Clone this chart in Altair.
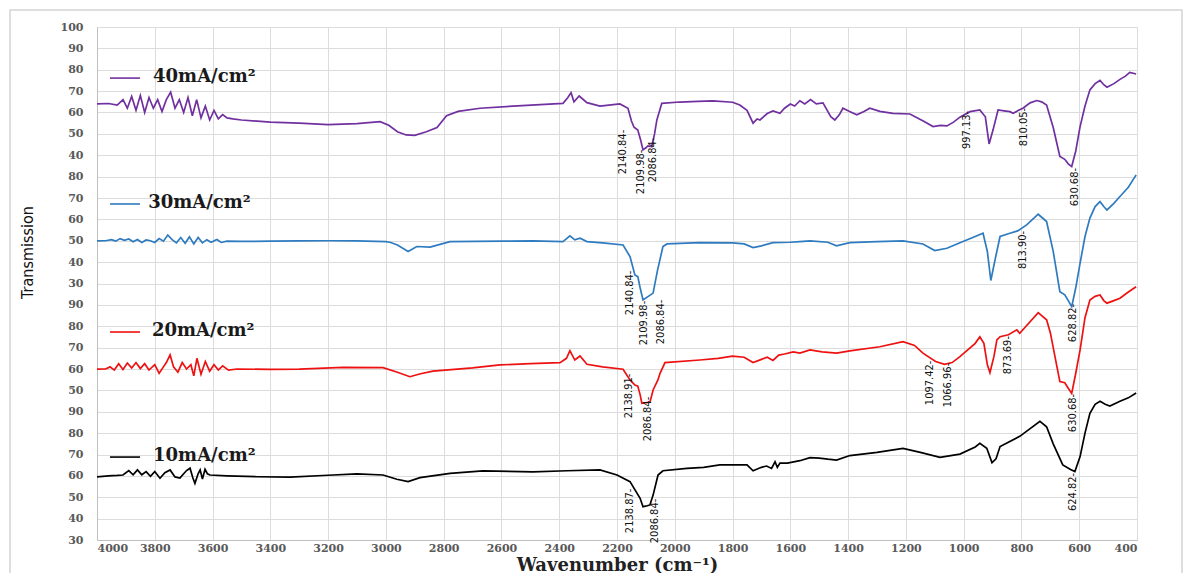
import altair as alt
import pandas as pd

SERIES = ["10mA/cm²", "20mA/cm²", "30mA/cm²", "40mA/cm²"]
COLORS = ["#000000", "#ee1111", "#2e7bbf", "#7030a0"]
# baseline label value and tick index where each stacked spectrum's own scale starts
BASE_VALUE = [30, 50, 30, 40]
BASE_INDEX = [0, 7, 12, 18]
TICK_LABELS = [30, 40, 50, 60, 70, 80, 90,
               50, 60, 70, 80, 90,
               30, 40, 50, 60, 70, 80,
               40, 50, 60, 70, 80, 90, 100]
X_TICKS = list(range(400, 4001, 200))

WN_40 = [4000, 3960, 3930, 3910, 3895, 3880, 3865, 3850, 3835, 3820, 3805, 3790, 3775, 3760, 3745,
         3730, 3715, 3700, 3685, 3670, 3655, 3640, 3625, 3610, 3595, 3580, 3565, 3550, 3530, 3500,
         3400, 3300, 3200, 3100, 3020, 2990, 2960, 2930, 2900, 2860, 2823, 2790, 2750, 2674, 2560,
         2450, 2387, 2370, 2359, 2349, 2331, 2304, 2259, 2190, 2162, 2150, 2141, 2128, 2118, 2110,
         2100, 2093, 2080, 2070, 2062, 2045, 1983, 1920, 1868, 1800, 1775, 1750, 1729, 1715, 1705,
         1680, 1660, 1636, 1620, 1600, 1585, 1567, 1550, 1530, 1510, 1487, 1460, 1446, 1430, 1418,
         1395, 1370, 1345, 1325, 1290, 1245, 1186, 1140, 1106, 1080, 1058, 1035, 1013, 978, 944,
         925, 912, 898, 881, 860, 840, 829, 810, 795, 770, 747, 730, 713, 690, 667,
         650, 638, 626, 612, 597, 580, 563, 545, 528, 515, 504, 480, 459, 440, 425, 403]
T_40 = [64.0, 64.2, 63.5, 66, 62, 67.5, 61, 68, 60, 67, 62, 66, 60.5, 66, 69.5,
        62, 66, 60, 67, 58.5, 66, 57.5, 63, 56.5, 61, 57, 59, 57.5, 57, 56.5,
        55.5, 55, 54.3, 54.8, 55.7, 54, 51, 49.5, 49.3, 51, 53, 58.5, 60.5, 62, 63,
        63.8, 64.3, 67, 69.3, 65, 67.7, 64.6, 63, 64, 62, 56, 53.1, 51.8, 47, 42.5,
        43.5, 44.4, 44, 50, 56.5, 64.3, 64.9, 65.2, 65.4, 64.8, 63.5, 61, 55, 57, 56.5,
        59.5, 60.7, 59.6, 62, 64, 63, 65.5, 64, 66, 64, 64.5, 58, 56.5, 59, 62,
        60.5, 58.9, 60.5, 62, 60.5, 59.6, 59.3, 56, 53.4, 54, 53.7, 55.5, 57.8, 60.4, 61.2,
        58, 45.3, 52, 61.2, 60.8, 60.4, 59.6, 61, 62, 64.5, 65.6, 65, 63.5, 53, 39.4,
        38.1, 36, 34.7, 42, 53.4, 63, 70.6, 73.5, 75, 73, 71.8, 73.5, 75.5, 77, 78.8, 78]

WN_30 = [4000, 3970, 3950, 3935, 3920, 3905, 3890, 3875, 3860, 3845, 3830, 3815, 3800, 3785, 3770,
         3755, 3740, 3725, 3710, 3695, 3680, 3665, 3650, 3635, 3620, 3605, 3585, 3570, 3550, 3500,
         3400, 3300, 3200, 3100, 3000, 2986, 2960, 2923, 2893, 2847, 2800, 2778, 2600, 2491, 2387,
         2363, 2346, 2328, 2304, 2250, 2179, 2155, 2138, 2128, 2120, 2110, 2089, 2075, 2060, 2041,
         2027, 1913, 1800, 1760, 1729, 1700, 1660, 1600, 1567, 1532, 1470, 1440, 1394, 1300, 1210,
         1141, 1100, 1058, 1013, 960, 933, 918, 906, 890, 874, 840, 813, 782, 742, 713,
         690, 667, 650, 638, 626, 612, 597, 580, 563, 545, 528, 515, 504, 480, 459, 430, 403]
T_30 = [49.9, 50, 50.5, 49.8, 51, 50.2, 50.8, 49.5, 50.6, 49.2, 50.4, 50, 49.2, 51, 49.8,
        52.7, 50.5, 49, 51.5, 48.8, 51.8, 48.5, 51.5, 49, 50.5, 49.3, 50.6, 49.2, 49.8, 49.7,
        49.8, 49.9, 50, 49.9, 49.6, 49.3, 48, 45, 47.3, 47, 48.8, 49.6, 49.8, 49.9, 49.6,
        52.3, 50.4, 51.2, 49.6, 49, 48, 42.6, 34, 33.2, 28, 22.3, 24.2, 25.5, 36, 47.3,
        48.5, 49.1, 49, 48.5, 46.8, 47.6, 49.1, 49.3, 49.6, 49.9, 49.3, 47.6, 49.1, 49.6, 49.9,
        48.5, 45.4, 46.5, 49.1, 52, 53.5, 45, 31.4, 42, 52, 53.5, 54.6, 57.4, 62.4, 59,
        45, 26.2, 24.7, 22, 19.2, 28, 39.5, 52, 60.6, 66, 68.3, 66, 64.4, 67.5, 70.7, 75, 80.8]

WN_20 = [4000, 3970, 3955, 3940, 3925, 3910, 3895, 3880, 3865, 3850, 3835, 3820, 3800, 3785, 3770,
         3760, 3747, 3735, 3720, 3705, 3690, 3675, 3665, 3654, 3640, 3625, 3610, 3595, 3580, 3565,
         3545, 3515, 3400, 3300, 3148, 3010, 2960, 2917, 2880, 2837, 2700, 2605, 2500, 2397, 2375,
         2363, 2346, 2328, 2304, 2250, 2179, 2155, 2138, 2128, 2120, 2114, 2100, 2086, 2075, 2058,
         2051, 2034, 1913, 1850, 1800, 1760, 1729, 1700, 1680, 1660, 1640, 1620, 1590, 1567, 1532,
         1490, 1440, 1394, 1290, 1210, 1170, 1141, 1097, 1066, 1040, 1013, 960, 944, 930, 918,
         909, 895, 885, 874, 845, 816, 806, 742, 713, 700, 677, 667, 650, 638, 626,
         612, 597, 580, 563, 545, 528, 515, 504, 480, 459, 430, 403]
T_20 = [59.9, 60, 61, 59.5, 62.5, 59.8, 62.8, 60.5, 63, 60.2, 62.5, 59.5, 62, 58, 61,
        63, 66.6, 61, 58.5, 63, 60, 62, 56.8, 65, 57.5, 63.5, 59, 62, 59.5, 61.5,
        59.5, 60, 59.8, 59.9, 60.8, 60.6, 58.5, 56.4, 57.8, 59, 60.5, 61.9, 62.5, 63, 65,
        68.6, 64.2, 66.1, 62.2, 61, 59.9, 54.9, 52.5, 52, 48, 44, 44.2, 44.5, 50.2, 55,
        58, 63, 64.2, 65, 66, 65.5, 63, 64.5, 65.5, 64, 66.5, 67, 68, 67.4, 68.9,
        68, 67.4, 68.5, 70.4, 72.8, 71, 67.4, 63.5, 62.2, 63, 65.8, 72, 75.1, 72, 62,
        58.3, 66, 73.6, 75.1, 76, 78.3, 76.7, 86.4, 83, 77, 61, 54.1, 53.6, 51, 48.6,
        58, 68.9, 84, 92.3, 94, 94.6, 92, 90.8, 92, 93.1, 96, 98.5]

WN_10 = [4000, 3960, 3930, 3910, 3890, 3875, 3860, 3845, 3830, 3815, 3800, 3782, 3765, 3747, 3730,
         3713, 3700, 3690, 3678, 3668, 3661, 3650, 3643, 3635, 3626, 3618, 3609, 3550, 3446, 3332,
         3200, 3100, 3010, 2962, 2923, 2882, 2778, 2664, 2491, 2373, 2259, 2200, 2155, 2120, 2110,
         2095, 2086, 2075, 2058, 2041, 1958, 1900, 1844, 1750, 1729, 1700, 1682, 1665, 1653, 1645,
         1636, 1610, 1567, 1532, 1500, 1470, 1440, 1394, 1300, 1210, 1150, 1082, 1013, 960, 944,
         920, 902, 888, 874, 806, 736, 713, 690, 657, 630, 615, 597, 580, 563, 545,
         528, 510, 494, 459, 430, 403]
T_10 = [59.5, 60, 60.2, 60.4, 62.5, 60.5, 62.8, 60.5, 62, 59.8, 62, 58.9, 61.5, 62.8, 59.5,
        59, 61, 62.5, 63.6, 59, 56.5, 61, 62.8, 58.5, 63.1, 61, 60.4, 60, 59.6, 59.4,
        60.3, 60.9, 60.4, 58.4, 57.3, 59.2, 61.2, 62.3, 61.9, 62.4, 62.8, 60.4, 57.3, 49.5, 45.6,
        46, 46.4, 51, 60.4, 62.4, 63.5, 64, 65.1, 65.1, 62.4, 64, 64.6, 63.5, 66.6, 64,
        66, 66, 67.1, 68.5, 68.3, 67.8, 67.4, 69.5, 71, 72.9, 71, 68.7, 70.2, 73.5, 75.2,
        72.9, 66.2, 68, 73.7, 78.5, 85.5, 83, 75, 65.1, 63, 62, 69, 80, 89.3, 93.5,
        94.9, 93.5, 92.7, 94.9, 96.5, 98.8]

# peak annotations: text, series, and where the label sits (wavenumber, series' own transmission units)
ANN_TEXT = ["2140.84-", "2109.98-", "2086.84-", "997.13-", "810.05-", "630.68-",
            "2140.84-", "2109.98-", "2086.84-", "813.90-", "628.82-",
            "2138.91-", "2086.84-", "1097.42-", "1066.96-", "873.69-", "630.68-",
            "2138.87-", "2086.84-", "624.82-"]
ANN_SERIES = [3, 3, 3, 3, 3, 3, 2, 2, 2, 2, 2, 1, 1, 1, 1, 1, 1, 0, 0, 0]
ANN_WN = [2179, 2117, 2075, 988, 791, 615,
          2155, 2107, 2048, 795, 622,
          2158, 2093, 1117, 1054, 847, 622,
          2155, 2068, 622]
ANN_T = [41.5, 32.2, 37.8, 51.8, 53.2, 25.1,
         25.6, 11.5, 12.0, 45.7, 11.5,
         47.4, 36.6, 53.5, 52.5, 66.5, 39.4,
         43.6, 38.9, 52.5]

# inline legend: sample line span and text start (wavenumber), level (series' own units)
LEG_WN_START = [3955, 3955, 3955, 3955]
LEG_WN_END = [3851, 3851, 3851, 3851]
LEG_TEXT_WN = [3806, 3810, 3823, 3806]
LEG_T = [68.8, 77.3, 67.2, 76.1]

spectra = []
for i, (wn, t) in enumerate([(WN_10, T_10), (WN_20, T_20), (WN_30, T_30), (WN_40, T_40)]):
    for w, v in zip(wn, t):
        spectra.append({"wn": w, "T": v, "series": SERIES[i],
                        "base": BASE_VALUE[i], "idx0": BASE_INDEX[i]})
spectra = pd.DataFrame(spectra)

ann = pd.DataFrame({"text": ANN_TEXT,
                    "wn": ANN_WN, "T": ANN_T,
                    "base": [BASE_VALUE[s] for s in ANN_SERIES],
                    "idx0": [BASE_INDEX[s] for s in ANN_SERIES]})

leg = pd.DataFrame({"series": SERIES, "wn0": LEG_WN_START, "wn1": LEG_WN_END,
                    "wnt": LEG_TEXT_WN, "T": LEG_T,
                    "base": BASE_VALUE, "idx0": BASE_INDEX})

pos_expr = "(datum.T - datum.base) / 10 + datum.idx0"
label_array = "[" + ",".join(str(v) for v in TICK_LABELS) + "]"

SERIF = "DejaVu Serif"
NARROW = "Liberation Sans Narrow, Arial Narrow, DejaVu Sans Condensed, sans-serif"

xscale = alt.Scale(domain=[400, 4000], reverse=True, nice=False, zero=False)
yscale = alt.Scale(domain=[0, 24], nice=False, zero=False)
color = alt.Color("series:N", scale=alt.Scale(domain=SERIES, range=COLORS), legend=None)

x_axis = alt.Axis(values=X_TICKS, format="d", title="Wavenumber (cm⁻¹)",
                  labelFont=SERIF, labelFontWeight="bold", labelFontSize=11,
                  labelColor="#595959", labelPadding=2, ticks=False, labelOverlap=False,
                  titleFont=SERIF, titleFontWeight="bold", titleFontSize=18,
                  titleColor="#222222", titleY=25, titleBaseline="middle",
                  grid=True, gridColor="#dcdcdc", domainColor="#bfbfbf")
y_axis = alt.Axis(values=list(range(25)), labelExpr=label_array + "[datum.value]",
                  title="Transmission", labelFont=SERIF, labelFontWeight="bold",
                  labelFontSize=11, labelColor="#595959", labelPadding=14, ticks=False,
                  labelOverlap=False, labelBound=False,
                  titleFont=NARROW, titleFontSize=16, titleFontWeight="normal",
                  titleColor="#111111", titleAngle=270, titleX=-70, titleY=225,
                  titleAlign="center", titleBaseline="middle",
                  grid=True, gridColor="#dcdcdc", domainColor="#bfbfbf")

X = lambda f: alt.X(f, scale=xscale, axis=x_axis)
Y = lambda f: alt.Y(f, scale=yscale, axis=y_axis)

frame = alt.Chart(pd.DataFrame({"a": [0]})).mark_rect(
    filled=False, stroke="#d4d4d4", strokeWidth=1.5
).encode(x=alt.value(-87), x2=alt.value(1085), y=alt.value(-17), y2=alt.value(620))

lines = alt.Chart(spectra).transform_calculate(pos=pos_expr).mark_line(
    strokeWidth=1.7, interpolate="linear"
).encode(
    x=X("wn:Q"), y=Y("pos:Q"), color=color, detail="series:N", order="wn:Q",
)

leg_lines = alt.Chart(leg).transform_calculate(pos=pos_expr).mark_rule(strokeWidth=1.6).encode(
    x=X("wn0:Q"), x2="wn1:Q", y=Y("pos:Q"), color=color,
)
leg_text = alt.Chart(leg).transform_calculate(pos=pos_expr).mark_text(
    align="left", baseline="middle", font=SERIF, fontWeight="bold", fontSize=18,
    color="#1a1a1a", dy=-1
).encode(
    x=X("wnt:Q"), y=Y("pos:Q"), text="series:N",
)

ann_text = alt.Chart(ann).transform_calculate(pos=pos_expr).mark_text(
    angle=270, align="center", baseline="middle", font=NARROW, fontSize=11, color="#111111"
).encode(
    x=X("wn:Q"), y=Y("pos:Q"), text="text:N",
)

chart = alt.layer(lines, leg_lines, leg_text, ann_text, frame).properties(
    width=1040, height=513,
    background="white",
    autosize=alt.AutoSizeParams(type="none"),
    padding={"left": 89, "top": 19, "right": 54, "bottom": 38},
).configure_view(stroke=None)

chart.save("out.html", embed_options={"renderer": "svg", "actions": False})
